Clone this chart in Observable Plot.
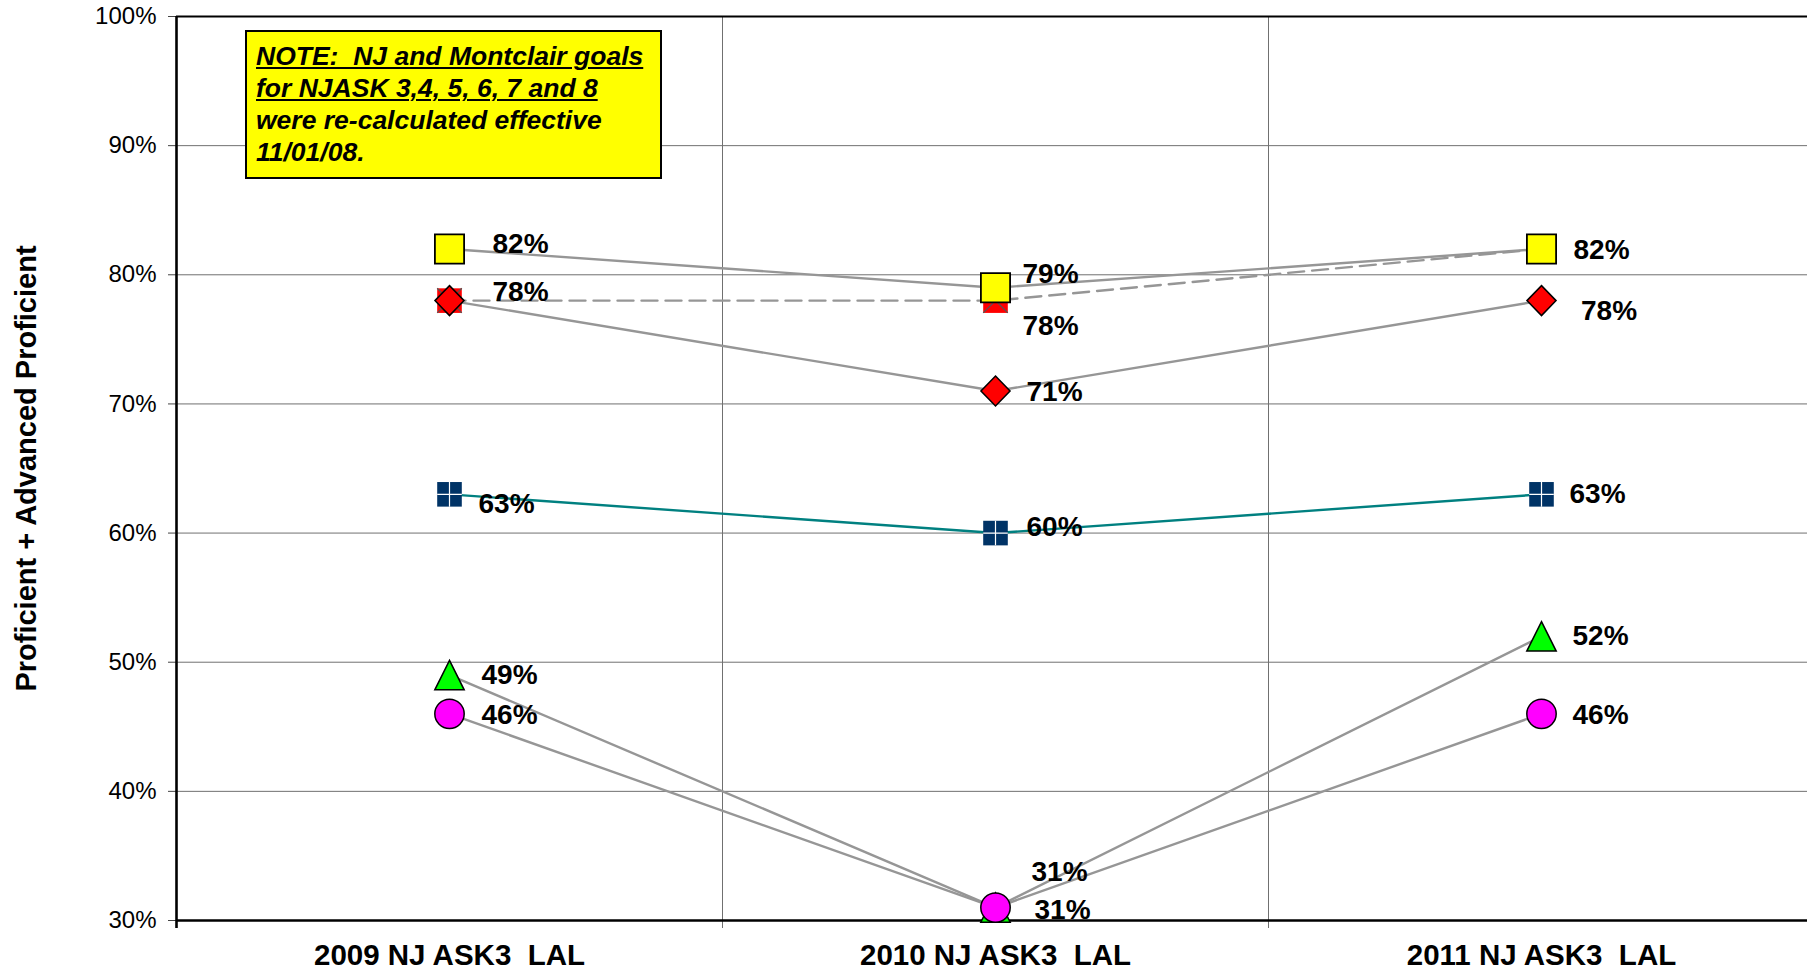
<!DOCTYPE html>
<html>
<head>
<meta charset="utf-8">
<script src="https://cdn.jsdelivr.net/npm/d3@7"></script>
<script src="https://cdn.jsdelivr.net/npm/@observablehq/plot@0.6"></script>
<style>
  html, body { margin: 0; padding: 0; background: #fff; overflow: hidden; }
  #wrap { position: relative; width: 1807px; height: 970px; }
  #note {
    position: absolute; left: 245px; top: 30px; width: 417px; height: 149px;
    box-sizing: border-box; background: #ffff00; border: 2px solid #000;
    font-family: "Liberation Sans", Arial, sans-serif; font-weight: bold; font-style: italic;
    font-size: 26.5px; line-height: 32px; padding: 8px 0 0 9px; color: #000;
  }
  #note div { white-space: pre; }
  #note .u { text-decoration: underline; text-decoration-thickness: 2px; text-underline-offset: 2px; }
</style>
</head>
<body>
<div id="wrap">
  <div id="chart"></div>
  <div id="note"></div>
</div>
<script>
// ---- data ----
const categories = ["2009 NJ ASK3  LAL", "2010 NJ ASK3  LAL", "2011 NJ ASK3  LAL"];
const yellowSquare = [82, 79, 82];
const redDiamond = [78, 71, 78];
const redSquare = [78, 78, 82];
const navySquare = [63, 60, 63];
const greenTriangle = [49, 31, 52];
const magentaCircle = [46, 31, 46];
const yTicks = [30, 40, 50, 60, 70, 80, 90, 100];
const yTitle = "Proficient + Advanced Proficient";
const noteLines = [
  {text: "NOTE:  NJ and Montclair goals", underline: true},
  {text: "for NJASK 3,4, 5, 6, 7 and 8", underline: true},
  {text: "were re-calculated effective", underline: false},
  {text: "11/01/08.", underline: false}
];

// ---- note box (annotation) ----
const note = document.getElementById("note");
for (const l of noteLines) {
  const div = document.createElement("div");
  const span = document.createElement("span");
  span.textContent = l.text;
  if (l.underline) span.className = "u";
  div.appendChild(span);
  note.appendChild(div);
}

// ---- build table ----
const seriesDefs = [
  {key: "redSquare", values: redSquare},
  {key: "redDiamond", values: redDiamond},
  {key: "yellowSquare", values: yellowSquare},
  {key: "navySquare", values: navySquare},
  {key: "greenTriangle", values: greenTriangle},
  {key: "magentaCircle", values: magentaCircle}
];
const rows = seriesDefs.flatMap(s => s.values.map((v, i) => ({series: s.key, i, value: v})));
const of = key => rows.filter(r => r.series === key);

// ---- symbols ----
const symSquare = {draw(c, size) { const r = Math.sqrt(size / Math.PI); c.rect(-r, -r, 2 * r, 2 * r); }};
const symDiamond = {draw(c, size) { const r = Math.sqrt(size / Math.PI); c.moveTo(0, -r); c.lineTo(r * 0.97, 0); c.lineTo(0, r); c.lineTo(-r * 0.97, 0); c.closePath(); }};
const symTriangle = {draw(c, size) { const r = Math.sqrt(size / Math.PI); c.moveTo(0, -r); c.lineTo(r, r); c.lineTo(-r, r); c.closePath(); }};
const symX = {draw(c, size) { const r = Math.sqrt(size / Math.PI); c.moveTo(-r, -r); c.lineTo(r, r); c.moveTo(r, -r); c.lineTo(-r, r); }};
const symPlus = {draw(c, size) { const r = Math.sqrt(size / Math.PI); c.moveTo(-r, 0); c.lineTo(r, 0); c.moveTo(0, -r); c.lineTo(0, r); }};

// ---- label nudges (styling) ----
const labelNudges = {
  yellowSquare: [[43, -5], [27, -13.5], [32, 1]],
  redDiamond: [[43, -8.5], [31, 1], [39.5, 10]],
  redSquare: [null, [27, 25], null],
  navySquare: [[29, 10], [31, -6], [28, 0]],
  greenTriangle: [[32, 0], [36, -36], [31, 0]],
  magentaCircle: [[32, 1], [39, 2], [31, 1]]
};
const labelMarks = rows
  .filter(r => labelNudges[r.series][r.i])
  .map(r => {
    const [dx, dy] = labelNudges[r.series][r.i];
    return Plot.text([r], {
      x: "i", y: "value", text: d => d.value + "%", dx, dy,
      textAnchor: "start", fontSize: 28, fontWeight: "bold", fill: "#000"
    });
  });

const boundaries = d3.range(categories.length + 1).map(i => i - 0.5);
const [yMin, yMax] = d3.extent(yTicks);
const gray = "#969696";

const chart = Plot.plot({
  width: 1807,
  height: 970,
  marginLeft: 176,
  marginRight: 0,
  marginTop: 16,
  marginBottom: 50,
  style: {fontFamily: '"Liberation Sans", Arial, sans-serif', background: "#fff", color: "#000"},
  x: {domain: [boundaries[0], boundaries[boundaries.length - 1]], range: [176, 1814], label: null},
  y: {domain: [yMin, yMax], label: null},
  marks: [
    Plot.gridY(yTicks.slice(1, -1), {stroke: "#707070", strokeOpacity: 1, strokeWidth: 1}),
    Plot.ruleX(boundaries.slice(1, -1), {stroke: "#707070", strokeWidth: 1, insetBottom: -8}),
    Plot.axisY({ticks: yTicks, tickFormat: d => d + "%", tickSize: 8, tickPadding: 12, fontSize: 24, stroke: "#444", fill: "#000", label: null}),
    Plot.axisX({ticks: d3.range(categories.length), tickFormat: i => categories[i], tickSize: 0, tickPadding: 24, fontSize: 29.5, fontWeight: "bold", fill: "#000", label: null}),
    Plot.ruleY([yMax], {stroke: "#000", strokeWidth: 2.2}),
    Plot.ruleY([yMin], {stroke: "#000", strokeWidth: 2.6}),
    Plot.ruleX([boundaries[0]], {stroke: "#000", strokeWidth: 2.6, insetBottom: -8}),
    Plot.text([yTitle], {text: d => d, frameAnchor: "left", textAnchor: "middle", dx: -150, rotate: -90, fontSize: 29, fontWeight: "bold", fill: "#000"}),
    // lines
    Plot.line(of("redSquare"), {x: "i", y: "value", stroke: gray, strokeWidth: 2.4, strokeDasharray: "16,8"}),
    Plot.line(of("redDiamond"), {x: "i", y: "value", stroke: gray, strokeWidth: 2.4}),
    Plot.line(of("yellowSquare"), {x: "i", y: "value", stroke: gray, strokeWidth: 2.4}),
    Plot.line(of("navySquare"), {x: "i", y: "value", stroke: "#008080", strokeWidth: 2.4}),
    Plot.line(of("greenTriangle"), {x: "i", y: "value", stroke: gray, strokeWidth: 2.4}),
    Plot.line(of("magentaCircle"), {x: "i", y: "value", stroke: gray, strokeWidth: 2.4}),
    // markers
    Plot.dot(of("redSquare"), {x: "i", y: "value", symbol: symSquare, r: 12.3, fill: "#ff0000", stroke: "none"}),
    Plot.dot(of("redSquare"), {x: "i", y: "value", symbol: symX, r: 12.3, fill: "none", stroke: "#555", strokeWidth: 1.3}),
    Plot.dot(of("redDiamond"), {x: "i", y: "value", symbol: symDiamond, r: 15, fill: "#ff0000", stroke: "#000", strokeWidth: 1.5}),
    Plot.dot(of("yellowSquare"), {x: "i", y: "value", symbol: symSquare, r: 14.6, fill: "#ffff00", stroke: "#000", strokeWidth: 1.8}),
    Plot.dot(of("navySquare"), {x: "i", y: "value", symbol: symSquare, r: 12.3, fill: "#003366", stroke: "none"}),
    Plot.dot(of("navySquare"), {x: "i", y: "value", symbol: symPlus, r: 12.3, fill: "none", stroke: "#fff", strokeWidth: 1.2}),
    Plot.dot(of("greenTriangle"), {x: "i", y: "value", symbol: symTriangle, r: 14.7, fill: "#00ff00", stroke: "#000", strokeWidth: 1.5}),
    Plot.dot(of("magentaCircle"), {x: "i", y: "value", symbol: "circle", r: 14.7, fill: "#ff00ff", stroke: "#000", strokeWidth: 1.5}),
    ...labelMarks
  ]
});
document.getElementById("chart").appendChild(chart);
</script>
</body>
</html>
